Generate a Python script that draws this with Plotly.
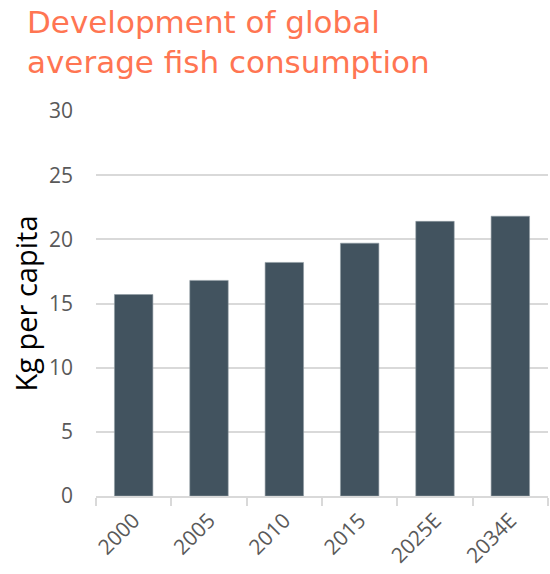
import plotly.graph_objects as go

# Global average fish consumption, kg per capita
years = ["2000", "2005", "2010", "2015", "2025E", "2034E"]
kg_per_capita = [15.7, 16.8, 18.2, 19.7, 21.4, 21.8]
y_ticks = [0, 5, 10, 15, 20, 25, 30]

title_text = "Development of global<br>average fish consumption"
y_title = "Kg per capita"

BAR = "#42535f"
GRID = "#d9d9d9"
TICK_TEXT = "#595959"
ORANGE = "#ff7552"
FONT = "'Open Sans', Lato, sans-serif"
TITLE_FONT = "'DejaVu Sans', 'Open Sans', sans-serif"

W, H = 550, 574
M_L, M_R, M_T, M_B = 96, 2, 111, 78
plot_h = H - M_T - M_B

fig = go.Figure(
    go.Bar(
        x=years,
        y=kg_per_capita,
        marker=dict(color=BAR, line=dict(color="#8e9aa3", width=0.6)),
        hoverinfo="x+y",
    )
)

fig.update_layout(
    width=W,
    height=H,
    paper_bgcolor="white",
    plot_bgcolor="white",
    margin=dict(l=M_L, r=M_R, t=M_T, b=M_B),
    bargap=0.49,
    showlegend=False,
    font=dict(family=FONT, color=TICK_TEXT),
)

# Two-line heading in the top-left corner
fig.add_annotation(
    text=title_text,
    xref="paper",
    yref="paper",
    x=(25 - M_L) / (W - M_L - M_R),
    y=1 + (M_T - 2) / plot_h,
    xanchor="left",
    yanchor="top",
    align="left",
    showarrow=False,
    font=dict(family=TITLE_FONT, size=31, color=ORANGE),
)

fig.update_yaxes(
    range=[0, 30],
    tickvals=y_ticks,
    automargin=False,
    showgrid=True,
    gridcolor=GRID,
    gridwidth=2,
    zeroline=False,
    showline=False,
    ticks="",
    ticklabelstandoff=22,
    tickfont=dict(family=FONT, size=21, color=TICK_TEXT),
    title=dict(text=y_title, font=dict(family=FONT, size=29, color="#000000"), standoff=2),
)

fig.update_xaxes(
    automargin=False,
    showline=True,
    linecolor=GRID,
    linewidth=2,
    ticks="outside",
    tickson="boundaries",
    ticklen=8,
    tickcolor=GRID,
    tickwidth=2,
    tickangle=-45,
    ticklabelstandoff=2,
    tickfont=dict(family=FONT, size=21, color=TICK_TEXT),
    showgrid=False,
)

fig.write_html("out.html")
